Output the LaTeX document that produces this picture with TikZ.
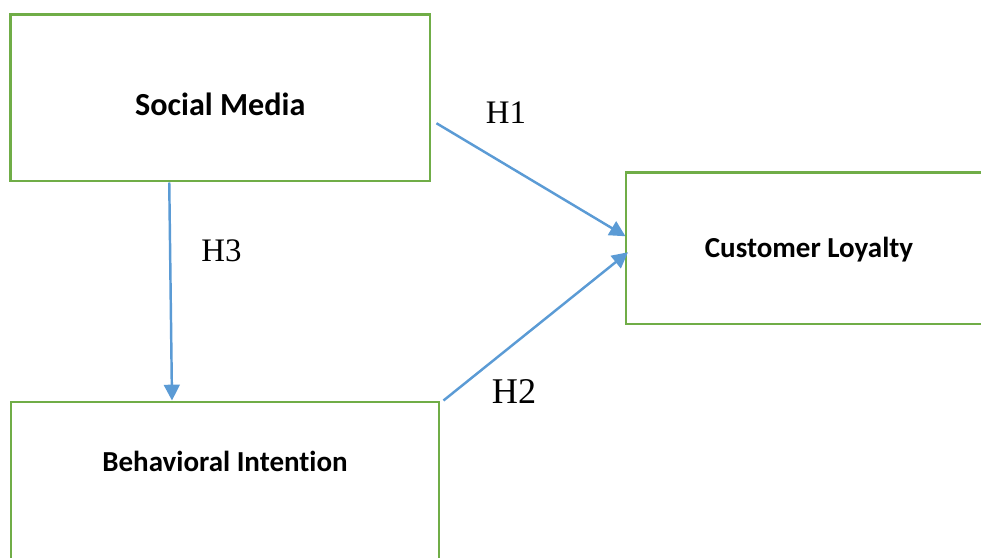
\documentclass[tikz,border=0pt]{standalone}
\usepackage{fontspec}
\setmainfont{Liberation Serif}
\newfontfamily\boxfont[Ligatures=NoCommon]{Carlito}
\usetikzlibrary{arrows.meta,positioning}

\definecolor{modelgreen}{RGB}{112,173,71}
\definecolor{modelblue}{RGB}{91,155,213}

\begin{document}
\begin{tikzpicture}[x=0.02cm,y=-0.02cm,>={Triangle[length=9pt,width=9pt]}]

\def\px{0.02cm}

% Colours
\colorlet{boxcolor}{modelgreen}
\colorlet{arrowcolor}{modelblue}

% Styles
\tikzstyle{factor box}=[draw=boxcolor, line width=1.7pt, rectangle, inner sep=0pt]
\tikzstyle{factor text}=[font=\boxfont\bfseries\fontsize{16.5}{20}\selectfont, inner sep=0pt]
\tikzstyle{hyp line}=[draw=arrowcolor, line width=1.4pt, ->]
\tikzstyle{hyp label}=[font=\fontsize{18.7}{22}\selectfont, inner sep=0pt]

\useasboundingbox (0,0) rectangle (981,558);
\clip (0,0) rectangle (981,558);

% Boxes
\node[factor box, minimum width=419.5*\px, minimum height=166.5*\px] (media) at (220.25,97.75) {};
\node[factor box, minimum width=366*\px, minimum height=151.5*\px] (loyalty) at (809,248.25) {};
\node[factor box, minimum width=428*\px, minimum height=200*\px] (intention) at (225,502) {};

\node[factor text, font=\boxfont\bfseries\fontsize{18.3}{22}\selectfont] (mediatext) at ([shift={(0,7)}]media.center) {Social Media};
\node[factor text] (loyaltytext) at ([shift={(0,1.5)}]loyalty.center) {Customer Loyalty};
\node[factor text] (intentiontext) at ([shift={(0,61.3)}]intention.north) {Behavioral Intention};

% Hypotheses
\draw[hyp line] ([shift={(5,25.5)}]media.east) -- ([shift={(1,-12)}]loyalty.west);
\draw[hyp line] ([shift={(3,0)}]intention.north east) -- ([shift={(3.5,4)}]loyalty.west);
\draw[hyp line] ([shift={(-51,0)}]media.south) -- ([shift={(-53,0)}]intention.north);

\node[hyp label] (h1) at (506,112.5) {H1};
\node[hyp label, font=\fontsize{20.6}{24}\selectfont] (h2) at (514,392) {H2};
\node[hyp label] (h3) at (221.5,251) {H3};

\end{tikzpicture}
\end{document}
